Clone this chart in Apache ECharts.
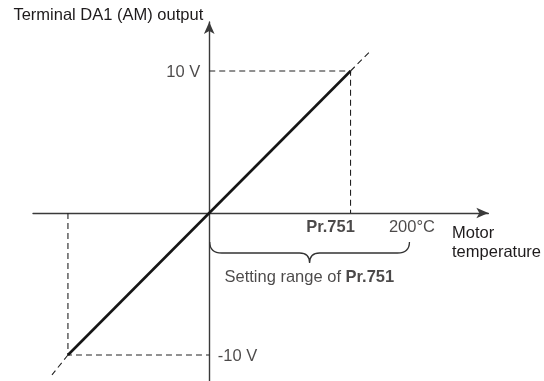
<!DOCTYPE html>
<html>
<head>
<meta charset="utf-8">
<script src="https://cdn.jsdelivr.net/npm/echarts@6/dist/echarts.min.js"></script>
<style>
  html, body { margin: 0; padding: 0; background: #fff; }
  #chart { width: 544px; height: 381px; }
</style>
</head>
<body>
<div id="chart"></div>
<script>
// Analog output vs. motor temperature (x in units of the Pr.751 setting)
const outputLine   = [[-1, -10], [1, 10]];          // output characteristic
const extendUpper  = [[1, 10], [1.134, 11.34]];     // dashed continuation above Pr.751
const extendLower  = [[-1, -10], [-1.113, -11.4]];  // dashed continuation below -Pr.751
const guideUpper   = [[0, 10], [1, 10], [1, 0]];     // 10 V projection
const guideLower   = [[-1, 0], [-1, -10], [0, -10]]; // -10 V projection
const voltLabels   = ['10 V', '-10 V'];
const voltValues   = [10, -10];
const prSetting    = 1;       // Pr.751 position
const maxTemp      = 1.4346;  // 200°C position
const braceEnd     = 1.417;   // right end of setting range brace
const tempLabels   = ['Pr.751', '200°C'];

const FONT = 'Liberation Sans, Arial, sans-serif';
const TXT = '#1e1b1c';
const FS = 16.5;

const chart = echarts.init(document.getElementById('chart'), null, { renderer: 'canvas' });

const labelItems = [
  { value: [0, voltValues[0]], label: { show: true, formatter: voltLabels[0], position: 'left', distance: 9, offset: [0, 1] } },
  { value: [0, voltValues[1]], label: { show: true, formatter: voltLabels[1], position: 'right', distance: 8.5, offset: [0, 1] } },
  { value: [prSetting, 0], label: { show: true, formatter: tempLabels[0], position: 'bottom', distance: 6, offset: [-20, 0], fontWeight: 'bold' } },
  { value: [maxTemp, 0], label: { show: true, formatter: tempLabels[1], position: 'bottom', distance: 6 } },
  { value: [braceEnd / 2, 0], label: { show: true, formatter: '{a|Setting range of }{b|' + tempLabels[0] + '}', position: 'bottom', distance: 56,
      rich: { a: { fontSize: FS, fontFamily: FONT, color: TXT }, b: { fontSize: FS, fontFamily: FONT, color: TXT, fontWeight: 'bold' } } } }
];

const dashStyle = { color: '#222', width: 1.1, type: [6, 4] };
const axisStyle = { color: '#3a3a3a', width: 1.4 };

chart.setOption({
  animation: false,
  grid: { left: 33, right: 55, top: 22, bottom: 0, containLabel: false },
  xAxis: {
    type: 'value', min: -1.2473, max: 1.9753,
    name: 'Motor\ntemperature', nameLocation: 'end', nameGap: -36.3,
    nameTextStyle: { fontSize: FS, fontFamily: FONT, color: TXT, align: 'left', verticalAlign: 'top', lineHeight: 19, padding: [11, 0, 0, 0] },
    axisLine: { onZero: true, symbol: ['none', 'arrow'], symbolSize: [8, 12], lineStyle: axisStyle },
    axisTick: { show: false }, axisLabel: { show: false }, splitLine: { show: false }
  },
  yAxis: {
    type: 'value', min: -11.831, max: 13.451,
    name: 'Terminal DA1 (AM) output', nameLocation: 'end', nameGap: 7,
    nameTextStyle: { fontSize: FS, fontFamily: FONT, color: TXT, align: 'right', verticalAlign: 'middle', padding: [0, 6, 0, 0] },
    axisLine: { onZero: true, symbol: ['none', 'arrow'], symbolSize: [8, 12], lineStyle: axisStyle },
    axisTick: { show: false }, axisLabel: { show: false }, splitLine: { show: false }
  },
  series: [
    { type: 'line', data: guideUpper, symbol: 'none', lineStyle: dashStyle, silent: true },
    { type: 'line', data: guideLower, symbol: 'none', lineStyle: dashStyle, silent: true },
    { type: 'line', data: extendUpper, symbol: 'none', lineStyle: dashStyle, silent: true },
    { type: 'line', data: extendLower, symbol: 'none', lineStyle: dashStyle, silent: true },
    { type: 'line', data: outputLine, symbol: 'none', lineStyle: { color: '#151515', width: 2.6 }, silent: true },
    {
      // curly brace marking the setting range along the temperature axis
      type: 'custom', silent: true,
      data: [[0, braceEnd]],
      renderItem: function (params, api) {
        const p0 = api.coord([api.value(0), 0]);
        const p1 = api.coord([api.value(1), 0]);
        const x0 = p0[0] + 0.5, x1 = p1[0], y = p0[1];
        const xm = (x0 + x1) / 2;
        const top = y + 29, flat = y + 40, tip = y + 50;
        const d = 'M' + x0 + ',' + top +
          ' Q' + x0 + ',' + flat + ' ' + (x0 + 12) + ',' + flat +
          ' L' + (xm - 10) + ',' + flat +
          ' Q' + xm + ',' + flat + ' ' + xm + ',' + tip +
          ' Q' + xm + ',' + flat + ' ' + (xm + 10) + ',' + flat +
          ' L' + (x1 - 12) + ',' + flat +
          ' Q' + x1 + ',' + flat + ' ' + x1 + ',' + top;
        return { type: 'path', shape: { pathData: d }, style: { fill: null, stroke: '#333', lineWidth: 1.3 } };
      }
    },
    {
      type: 'scatter', symbolSize: 0, silent: true, data: labelItems,
      label: { fontSize: FS, fontFamily: FONT, color: TXT }
    }
  ]
});
</script>
</body>
</html>
